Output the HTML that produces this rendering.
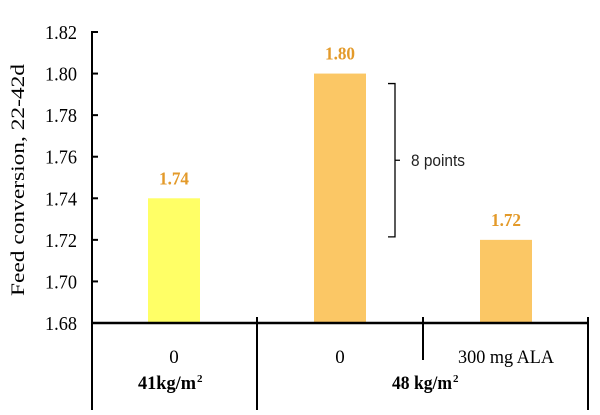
<!DOCTYPE html>
<html><head><meta charset="utf-8"><style>
body{margin:0;background:#fff;}
svg{display:block;font-family:"Liberation Serif",serif;}
</style></head><body>
<svg width="600" height="415" id="chart"></svg>
<script>
const categories=["0","0","300 mg ALA"];
const values=[1.74,1.80,1.72];
const valueLabels=["1.74","1.80","1.72"];
const ticks=[1.68,1.70,1.72,1.74,1.76,1.78,1.80,1.82];
const tickLabels=["1.68","1.70","1.72","1.74","1.76","1.78","1.80","1.82"];
const colors=["#ffff66","#fbc765","#fbc765"];
const svg=document.getElementById('chart');
const NS="http://www.w3.org/2000/svg";
function y(v){return 323-(v-1.68)/(0.14)*291;}
function x(i){return 174+i*166;}
function mk(t,a,txt){const e=document.createElementNS(NS,t);for(const k in a)e.setAttribute(k,a[k]);if(txt!==undefined)e.textContent=txt;svg.appendChild(e);return e;}
let e=mk('text',{x:24,y:180,'font-size':19,'text-anchor':'middle',transform:'rotate(-90 24 180)',textLength:232,lengthAdjust:'spacingAndGlyphs'},'Feed conversion, 22-42d');


ticks.forEach((t,i)=>{
  let l=mk('line',{x1:92,x2:98,y1:y(t),y2:y(t),stroke:'#000','stroke-width':2});
  
  
  let tx=mk('text',{x:77,y:y(t)+7,'font-size':20,'text-anchor':'end',textLength:32,lengthAdjust:'spacingAndGlyphs'},tickLabels[i]);
  
  
});
values.forEach((v,i)=>{
  let r=mk('rect',{x:x(i)-26,y:y(v),width:52,height:323-y(v),fill:colors[i]});
  
  
  let t=mk('text',{x:x(i),y:y(v)-14,'font-size':18,'font-weight':'bold',fill:'#e39a2a','text-anchor':'middle',textLength:30,lengthAdjust:'spacingAndGlyphs'},valueLabels[i]);
  
  
  let c=mk('text',{x:x(i),y:363,'font-size':19,'text-anchor':'middle'},categories[i]);
  if(categories[i].length>2){c.setAttribute('textLength',96);c.setAttribute('lengthAdjust','spacingAndGlyphs');}
  
  
});
e=mk('line',{x1:92,x2:92,y1:31,y2:410,stroke:'#000','stroke-width':2});


e=mk('line',{x1:92,x2:589,y1:323,y2:323,stroke:'#000','stroke-width':2.5});


[[257,410],[423,360],[588,410]].forEach(s=>{
  let l=mk('line',{x1:s[0],x2:s[0],y1:317,y2:s[1],stroke:'#000','stroke-width':2});
  
  
});
e=mk('text',{x:138,y:389,'font-size':19,'font-weight':'bold',textLength:58,lengthAdjust:'spacingAndGlyphs'},'41kg/m');


let ts=document.createElementNS(NS,'tspan');ts.textContent='2';ts.setAttribute('x',197);ts.setAttribute('dy',-7);ts.setAttribute('font-size',11);e.parentNode.appendChild(e);
let e2=mk('text',{x:197,y:382,'font-size':11,'font-weight':'bold'},'2');


e=mk('text',{x:392,y:389,'font-size':19,'font-weight':'bold',textLength:60,lengthAdjust:'spacingAndGlyphs'},'48 kg/m');


e2=mk('text',{x:453,y:382,'font-size':11,'font-weight':'bold'},'2');


const yt=y(values[1])+10, yb=y(values[2])-3;
e=mk('path',{d:`M388 ${yt} L395 ${yt} L395 ${yb} L388 ${yb} M395 ${(yt+yb)/2} L400 ${(yt+yb)/2}`,fill:'none',stroke:'#000','stroke-width':1.3});


e=mk('text',{x:411,y:(yt+yb)/2+6,'font-size':17,'font-family':'Liberation Sans, sans-serif',fill:'#222',textLength:54,lengthAdjust:'spacingAndGlyphs'},'8 points');


</script>
</body></html>
